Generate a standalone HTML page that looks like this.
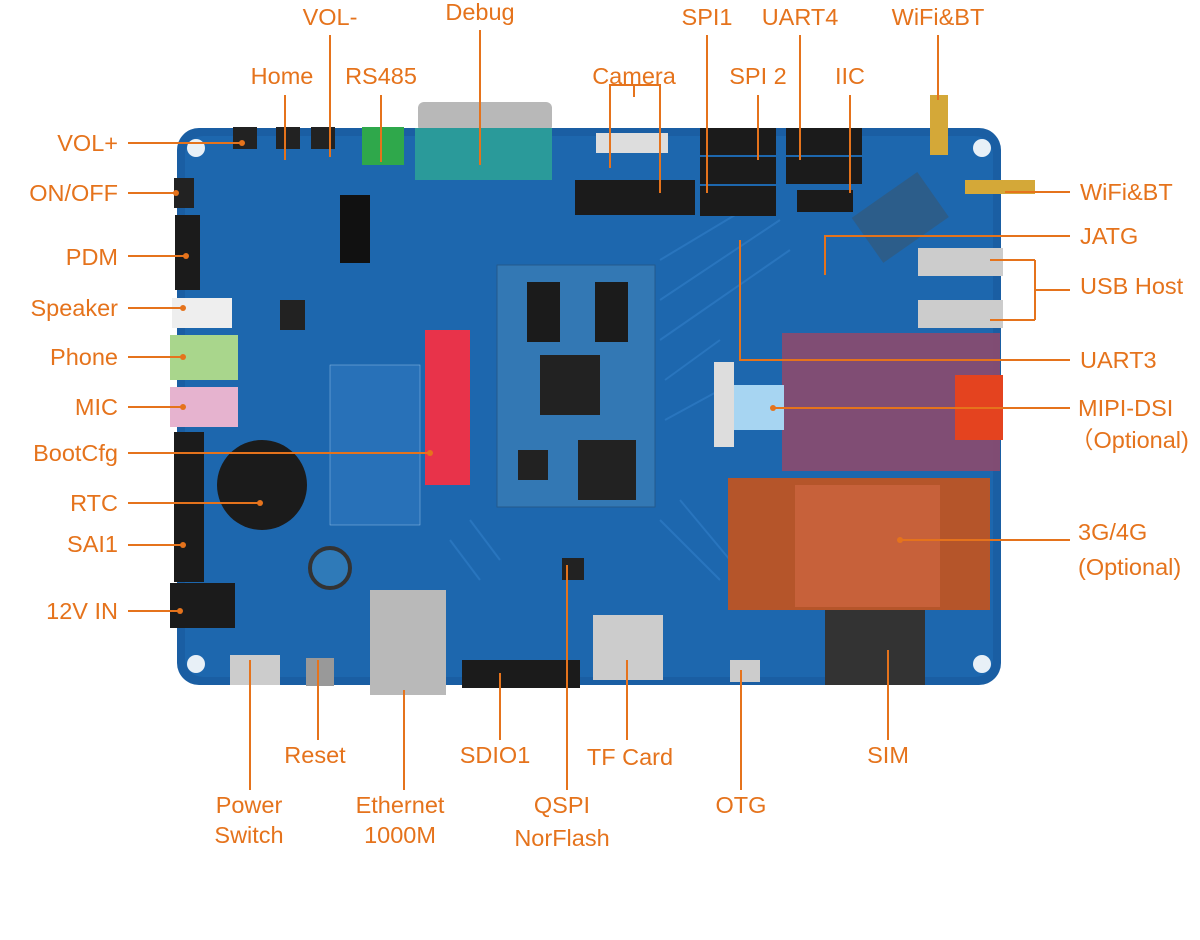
<!DOCTYPE html>
<html><head><meta charset="utf-8"><style>
body{margin:0;background:#fff;}
svg{display:block}
text{font-family:"Liberation Sans","Noto Sans CJK SC",sans-serif;font-size:23.5px;fill:#e5731c}
</style></head><body>
<svg width="1200" height="940" viewBox="0 0 1200 940" xmlns="http://www.w3.org/2000/svg">
<rect x="177" y="128" width="824" height="557" rx="22" fill="#1a5ea3"/>
<rect x="185" y="136" width="808" height="541" rx="18" fill="#1d67ae"/>
<g fill="#fff" opacity="0.9">
<circle cx="196" cy="148" r="9"/><circle cx="982" cy="148" r="9"/><circle cx="196" cy="664" r="9"/><circle cx="982" cy="664" r="9"/></g>
<g stroke="#2f7cc4" stroke-width="2" fill="none" opacity="0.7">
<path d="M660 260 L760 200 M660 300 L780 220 M660 340 L790 250 M665 380 L720 340 M665 420 L720 390 M470 520 L500 560 M450 540 L480 580 M660 520 L720 580 M680 500 L730 560"/>
</g>
<g fill="#222"><rect x="233" y="127" width="24" height="22"/><rect x="276" y="127" width="24" height="22"/><rect x="311" y="127" width="24" height="22"/></g>
<rect x="362" y="127" width="42" height="38" fill="#2fa84b"/>
<rect x="418" y="102" width="134" height="30" rx="6" fill="#b8b8b8"/>
<rect x="415" y="128" width="137" height="52" fill="#2a9a9a"/>
<rect x="596" y="133" width="72" height="20" fill="#ddd"/>
<rect x="575" y="180" width="120" height="35" fill="#1b1b1b"/>
<rect x="700" y="128" width="76" height="27" fill="#1b1b1b"/><rect x="700" y="157" width="76" height="27" fill="#1b1b1b"/><rect x="700" y="186" width="76" height="30" fill="#1b1b1b"/>
<rect x="786" y="128" width="76" height="27" fill="#1b1b1b"/><rect x="786" y="157" width="76" height="27" fill="#1b1b1b"/><rect x="797" y="190" width="56" height="22" fill="#1b1b1b"/>
<rect x="860" y="190" width="80" height="55" fill="#2c5d8a" transform="rotate(-35 900 217)"/>
<rect x="930" y="95" width="18" height="60" fill="#d4a838"/>
<rect x="965" y="180" width="70" height="14" fill="#d4a838"/>
<rect x="174" y="178" width="20" height="30" fill="#222"/>
<rect x="175" y="215" width="25" height="75" fill="#1b1b1b"/>
<rect x="172" y="298" width="60" height="30" fill="#eee"/>
<rect x="170" y="335" width="68" height="45" fill="#a9d68c"/>
<rect x="170" y="387" width="68" height="40" fill="#e6b3cf"/>
<rect x="174" y="432" width="30" height="150" fill="#1b1b1b"/>
<circle cx="262" cy="485" r="45" fill="#1b1b1b"/>
<rect x="170" y="583" width="65" height="45" fill="#1b1b1b"/>
<circle cx="330" cy="568" r="20" fill="#2f7ab8" stroke="#333" stroke-width="4"/>
<rect x="230" y="655" width="50" height="30" fill="#ccc"/>
<rect x="306" y="658" width="28" height="28" fill="#999"/>
<rect x="340" y="195" width="30" height="68" fill="#111"/>
<rect x="497" y="265" width="158" height="242" fill="#3378b4" stroke="#245a8c"/>
<rect x="527" y="282" width="33" height="60" fill="#1b1b1b"/><rect x="595" y="282" width="33" height="60" fill="#1b1b1b"/>
<rect x="540" y="355" width="60" height="60" fill="#222"/>
<rect x="578" y="440" width="58" height="60" fill="#222"/>
<rect x="518" y="450" width="30" height="30" fill="#222"/>
<rect x="425" y="330" width="45" height="155" fill="#e8334a"/>
<rect x="330" y="365" width="90" height="160" fill="#2871b8" stroke="#8fc0e8" stroke-width="0.5"/>
<rect x="782" y="333" width="218" height="138" fill="#8c4a6e" opacity="0.9"/>
<rect x="955" y="375" width="48" height="65" fill="#e4431f"/>
<rect x="714" y="362" width="20" height="85" fill="#ddd"/>
<rect x="734" y="385" width="50" height="45" fill="#a7d5f2"/>
<rect x="728" y="478" width="262" height="132" fill="#b5552a"/>
<rect x="795" y="485" width="145" height="122" fill="#c7613a"/>
<rect x="825" y="610" width="100" height="75" fill="#333"/>
<rect x="918" y="248" width="85" height="28" fill="#ccc"/><rect x="918" y="300" width="85" height="28" fill="#ccc"/>
<rect x="370" y="590" width="76" height="105" fill="#b9b9b9"/>
<rect x="462" y="660" width="118" height="28" fill="#1b1b1b"/>
<rect x="593" y="615" width="70" height="65" fill="#ccc"/>
<rect x="730" y="660" width="30" height="22" fill="#ccc"/>
<rect x="562" y="558" width="22" height="22" fill="#222"/>
<rect x="280" y="300" width="25" height="30" fill="#222"/>

<g stroke="#e5731c" stroke-width="2" fill="none">
<path d="M128 143H242M128 193H176M128 256H186M128 308H183M128 357H183M128 407H183M128 453H430M128 503H260M128 545H183M128 611H180"/>
<path d="M285 95V160M330 35V157M381 95V162M480 30V165M634 97V85H610V168M634 85H660V193M707 35V193M758 95V160M800 35V160M850 95V193M938 35V100"/>
<path d="M1070 192H1005M1070 236H825V275M1035 260V320M1035 260H990M1035 320H990M1035 290H1070M1070 360H740V240M1070 408H773M1070 540H900"/>
<path d="M250 790V660M318 740V660M404 790V690M500 740V673M567 790V565M627 740V660M741 790V670M888 740V650"/>
</g>
<g fill="#e5731c">
<circle cx="242" cy="143" r="3"/><circle cx="176" cy="193" r="3"/><circle cx="186" cy="256" r="3"/><circle cx="183" cy="308" r="3"/><circle cx="183" cy="357" r="3"/><circle cx="183" cy="407" r="3"/><circle cx="430" cy="453" r="3"/><circle cx="260" cy="503" r="3"/><circle cx="183" cy="545" r="3"/><circle cx="180" cy="611" r="3"/>
<circle cx="900" cy="540" r="3"/><circle cx="773" cy="408" r="3"/>
</g>

<g text-anchor="middle">
<text x="330" y="25">VOL-</text><text x="480" y="20">Debug</text><text x="282" y="84">Home</text><text x="381" y="84">RS485</text><text x="634" y="84">Camera</text>
<text x="707" y="25">SPI1</text><text x="800" y="25">UART4</text><text x="938" y="25">WiFi&amp;BT</text><text x="758" y="84">SPI 2</text><text x="850" y="84">IIC</text>
<text x="315" y="763">Reset</text><text x="495" y="763">SDIO1</text><text x="630" y="765">TF Card</text><text x="888" y="763">SIM</text>
<text x="249" y="813">Power</text><text x="249" y="843">Switch</text><text x="400" y="813">Ethernet</text><text x="400" y="843">1000M</text>
<text x="562" y="813">QSPI</text><text x="562" y="846">NorFlash</text><text x="741" y="813">OTG</text>
</g>
<g text-anchor="end">
<text x="118" y="151">VOL+</text><text x="118" y="201">ON/OFF</text><text x="118" y="265">PDM</text><text x="118" y="316">Speaker</text><text x="118" y="365">Phone</text><text x="118" y="415">MIC</text><text x="118" y="461">BootCfg</text><text x="118" y="511">RTC</text><text x="118" y="552">SAI1</text><text x="118" y="619">12V IN</text>
</g>
<g>
<text x="1080" y="200">WiFi&amp;BT</text><text x="1080" y="244">JATG</text><text x="1080" y="294">USB Host</text><text x="1080" y="368">UART3</text><text x="1078" y="416">MIPI-DSI</text><text x="1070" y="448">（Optional)</text><text x="1078" y="540">3G/4G</text><text x="1078" y="575">(Optional)</text>
</g>
</svg>
</body></html>
